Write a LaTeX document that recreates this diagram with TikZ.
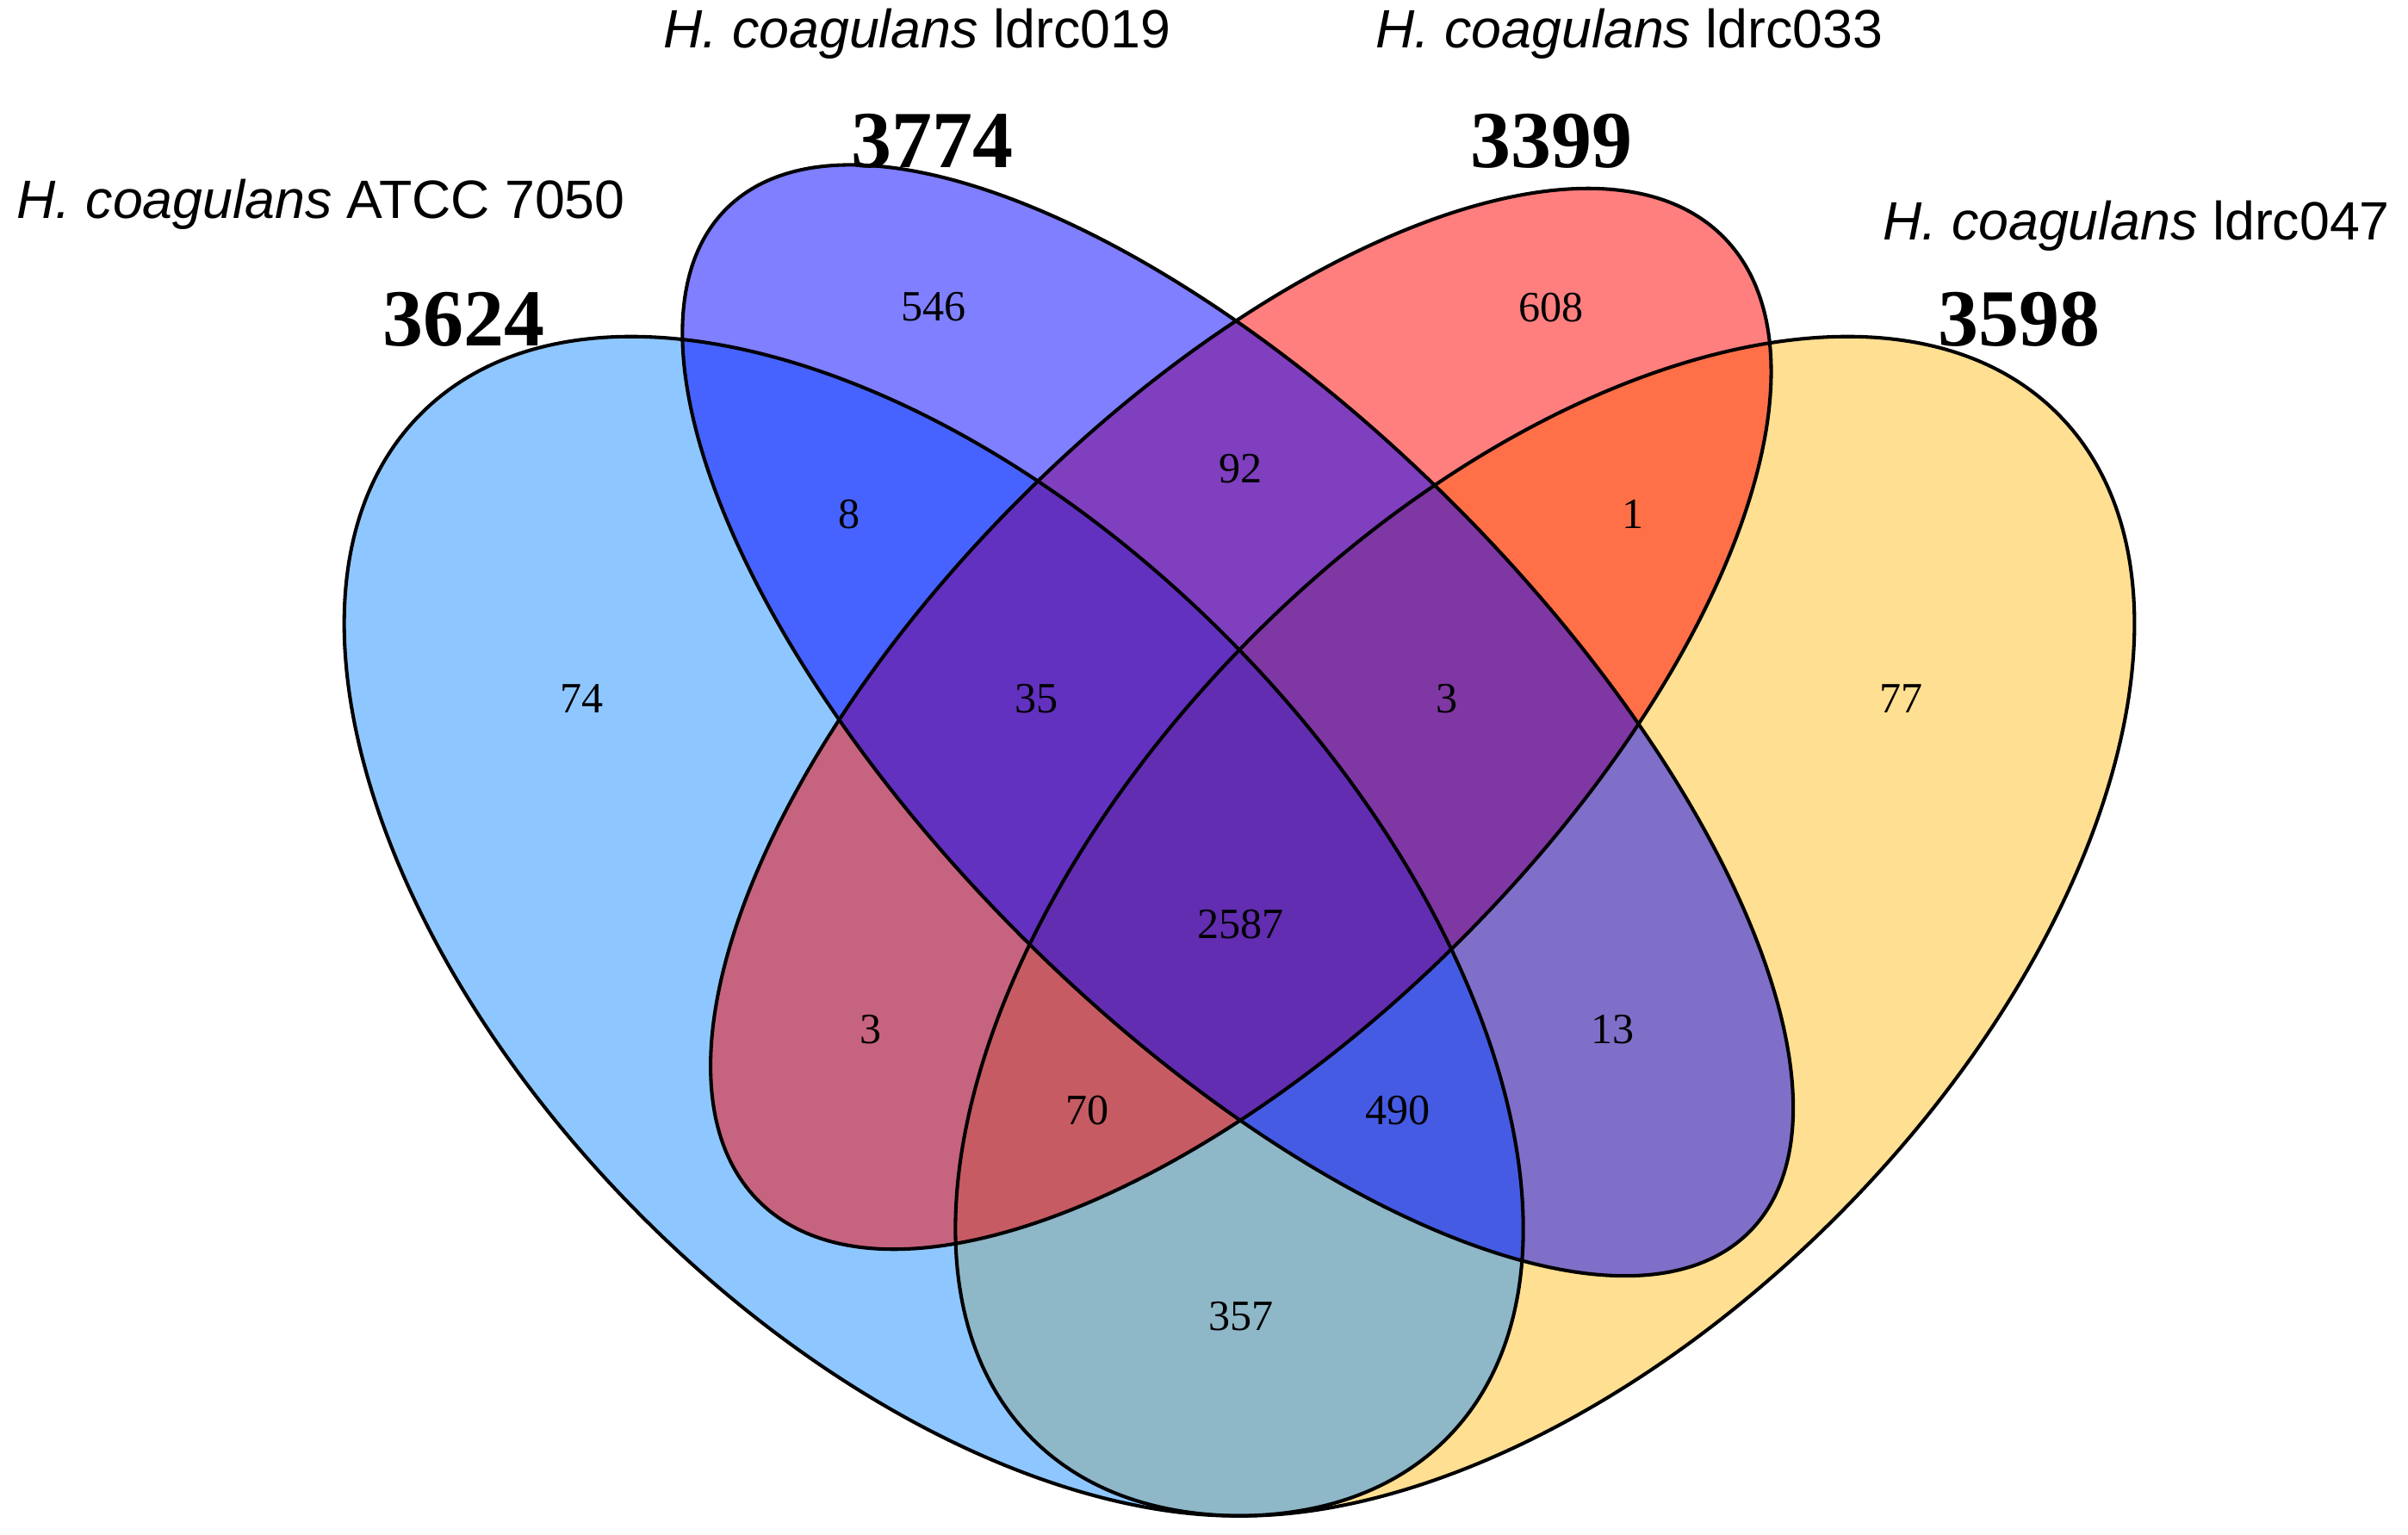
\documentclass[tikz,border=0pt]{standalone}
\usepackage{fontspec}
\setmainfont{Liberation Serif}
\newfontfamily\strainfont{Liberation Sans}

\definecolor{atcc}{RGB}{30,144,255}
\definecolor{ldrcA}{RGB}{0,0,255}
\definecolor{ldrcB}{RGB}{255,0,0}
\definecolor{ldrcC}{RGB}{255,193,37}

\begin{document}
\begin{tikzpicture} [setfill/.style={fill opacity=0.5},
  setline/.style={draw=black,line width=0.65pt},
  strain/.style={font=\strainfont\fontsize{10}{12}\selectfont,inner sep=0pt},
  total/.style={font=\fontsize{15}{18}\selectfont\bfseries,inner sep=0pt},
  regnum/.style={font=\fontsize{8}{10}\selectfont,inner sep=0pt}]
  \useasboundingbox (0,0) rectangle (15.68,-9.988);
  \fill[white] (0,0) rectangle (15.68,-9.988);

  \coordinate (cA) at (6.08,-6.03);
  \coordinate (cB) at (8.06,-4.69);
  \coordinate (cC) at (8.08,-4.68);
  \coordinate (cD) at (10.06,-6.03);

  % fills, in the order they were laid down
  \fill[ldrcC,setfill,rotate around={45:(cD)}] (cD) ellipse [x radius=4.72cm,y radius=2.68cm];
  \fill[atcc,setfill,rotate around={-45:(cA)}] (cA) ellipse [x radius=4.72cm,y radius=2.68cm];
  \fill[ldrcB,setfill,rotate around={45:(cC)}] (cC) ellipse [x radius=4.44cm,y radius=2.03cm];
  \fill[ldrcA,setfill,rotate around={-45:(cB)}] (cB) ellipse [x radius=4.71cm,y radius=1.99cm];

  % outlines
  \draw[setline,rotate around={45:(cD)}] (cD) ellipse [x radius=4.72cm,y radius=2.68cm];
  \draw[setline,rotate around={-45:(cA)}] (cA) ellipse [x radius=4.72cm,y radius=2.68cm];
  \draw[setline,rotate around={45:(cC)}] (cC) ellipse [x radius=4.44cm,y radius=2.03cm];
  \draw[setline,rotate around={-45:(cB)}] (cB) ellipse [x radius=4.71cm,y radius=1.99cm];

  % set names and totals
  \node[strain] (nameA) at (2.09,-1.33) {\itshape H. coagulans\upshape{} ATCC 7050};
  \node[total] (totA) at (3.02,-2.08) {3624};
  \node[strain] (nameB) at (5.97,-0.22) {\itshape H. coagulans\upshape{} ldrc019};
  \node[total] (totB) at (6.07,-0.92) {3774};
  \node[strain] (nameC) at (10.61,-0.22) {\itshape H. coagulans\upshape{} ldrc033};
  \node[total] (totC) at (10.10,-0.92) {3399};
  \node[strain] (nameD) at (13.91,-1.47) {\itshape H. coagulans\upshape{} ldrc047};
  \node[total] (totD) at (13.15,-2.08) {3598};

  % region counts
  \foreach \x/\y/\n [count=\i] in {6.08/-2.00/546, 10.10/-2.00/608, 3.79/-4.55/74,
      12.38/-4.55/77, 5.53/-3.35/8, 8.08/-3.05/92, 10.63/-3.35/1, 6.75/-4.55/35,
      9.42/-4.55/3, 8.08/-6.02/2587, 5.67/-6.70/3, 10.50/-6.70/13, 7.08/-7.23/70,
      9.10/-7.23/490, 8.08/-8.57/357}
    \node[regnum] (r\i) at (\x,\y) {\n};

\end{tikzpicture}
\end{document}
